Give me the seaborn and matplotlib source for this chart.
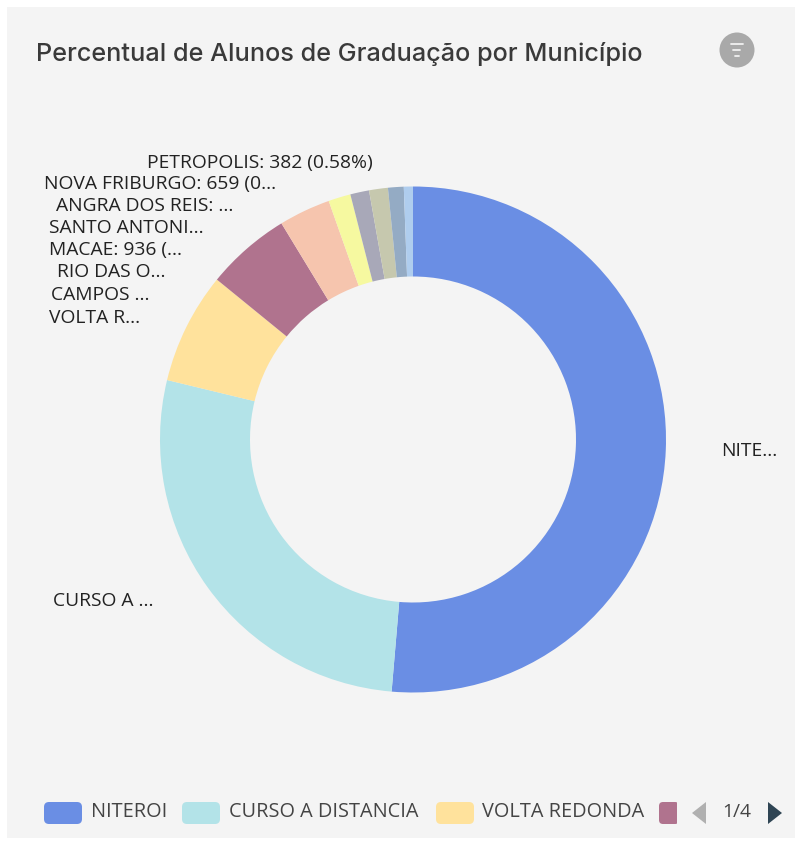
import matplotlib
matplotlib.use("Agg")
import matplotlib.pyplot as plt
from matplotlib.patches import FancyBboxPatch, Rectangle, Circle, Polygon
import seaborn as sns

sns.set_theme(style="white")
plt.rcParams['font.family'] = ['Open Sans', 'DejaVu Sans']

municipios = ["NITEROI", "CURSO A DISTANCIA", "VOLTA REDONDA", "CAMPOS", "RIO DAS OSTRAS", "MACAE",
              "SANTO ANTONIO", "ANGRA DOS REIS", "NOVA FRIBURGO", "PETROPOLIS"]
alunos = [33790, 18050, 4680, 3560, 2170, 936, 790, 790, 659, 382]
cores = ["#6A8EE4", "#B3E3E8", "#FFE29C", "#B0738E", "#F6C5AE", "#F6F9A0", "#A8A8B8", "#C6C8AE", "#94ABC4", "#AFCDEE"]
rotulos = ["NITE...", "CURSO A ...", "VOLTA R...", "CAMPOS ...", "RIO DAS O...", "MACAE: 936 (...",
           "SANTO ANTONI...", "ANGRA DOS REIS: ...", "NOVA FRIBURGO: 659 (0...", "PETROPOLIS: 382 (0.58%)"]
titulo = "Percentual de Alunos de Graduação por Município"
legenda = ["NITEROI", "CURSO A DISTANCIA", "VOLTA REDONDA"]
pagina = "1/4"

W, H = 803, 846
rot_x = [721, 53, 49, 51, 57, 49, 49, 56, 44, 147]
rot_y = [451, 601, 318, 295, 272, 250, 228, 206, 184, 163]

fig = plt.figure(figsize=(W / 100, H / 100), dpi=100, facecolor="white")
ax = fig.add_axes([0, 0, 1, 1])
ax.set_xlim(0, W)
ax.set_ylim(0, H)
ax.axis("off")
Y = lambda y: H - y

ax.add_patch(Rectangle((7, Y(838)), 788, 831, fc="#F4F4F4", ec="none", zorder=0))

ax.pie(alunos, colors=cores, center=(413, Y(439.5)), radius=253, startangle=90, counterclock=False,
       wedgeprops=dict(width=90, linewidth=0), frame=False)
ax.set_xlim(0, W)
ax.set_ylim(0, H)
ax.set_aspect("auto")

for t, x, y in zip(rotulos, rot_x, rot_y):
    ax.text(x, Y(y), t, fontsize=13.9, color="#222222", va="center", ha="left")

ax.text(36, Y(54), titulo, fontsize=18.2, fontweight="medium", family=["Inter", "DejaVu Sans"],
        color="#3A3A3A", va="center", ha="left")

# filter icon
ax.add_patch(Circle((737, Y(50)), 17.5, fc="#A9A9A9", ec="none"))
for half, yy in [(6, 44), (3.5, 50), (1.7, 56)]:
    ax.plot([737 - half, 737 + half], [Y(yy), Y(yy)], color="#F0F0F0", lw=1.3, solid_capstyle="round")

# legend
for x0, w, c, t, tx in zip([44, 182, 436], [38, 38, 38], cores[:3], legenda, [91, 229, 482]):
    ax.add_patch(FancyBboxPatch((x0 + 4, Y(824) + 4), w - 8, 14, boxstyle="round,pad=4,rounding_size=5", fc=c, ec="none"))
    ax.text(tx, Y(812), t, fontsize=14.3, color="#444444", va="center", ha="left")
ax.add_patch(FancyBboxPatch((663, Y(824) + 4), 12, 14, boxstyle="round,pad=4,rounding_size=4", fc=cores[3], ec="none", clip_on=True))
ax.add_patch(Rectangle((677, Y(828)), 10, 30, fc="#F4F4F4", ec="none", zorder=3))
ax.add_patch(Polygon([[706, Y(802)], [706, Y(824)], [692, Y(813)]], fc="#B0B0B0", ec="none", zorder=4))
ax.add_patch(Polygon([[768, Y(802)], [768, Y(824)], [782, Y(813)]], fc="#2F4554", ec="none", zorder=4))
ax.text(737, Y(812), pagina, fontsize=13.9, color="#444444", va="center", ha="center", zorder=4)

fig.savefig("out.png", dpi=100)
